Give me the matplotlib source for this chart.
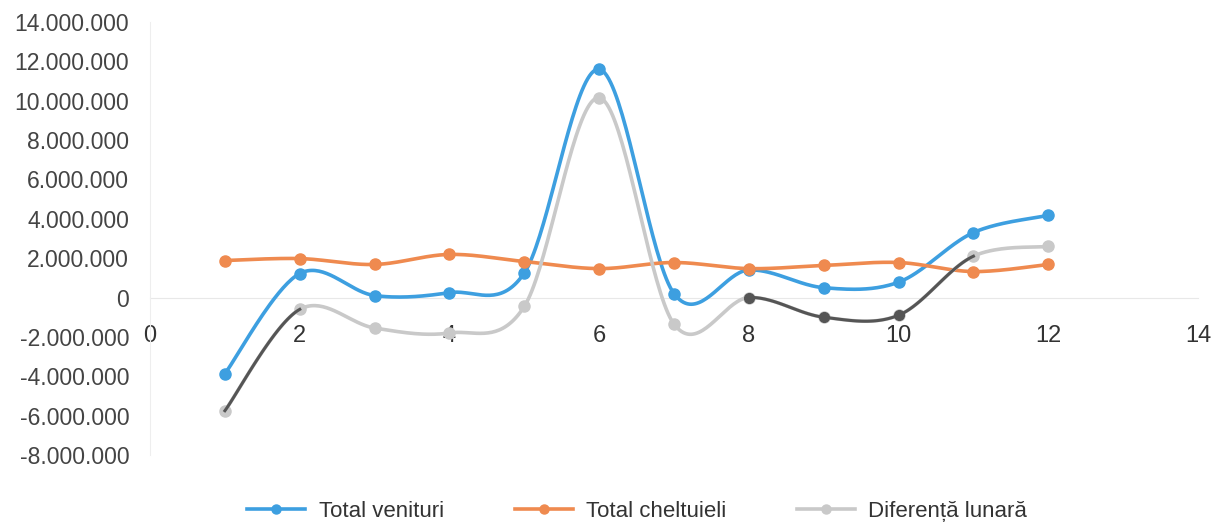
import matplotlib
matplotlib.use("Agg")
import matplotlib.pyplot as plt
import numpy as np
from matplotlib.ticker import FuncFormatter

plt.rcParams["font.family"] = ["Liberation Sans Narrow", "Liberation Sans", "DejaVu Sans"]

# luna (1..12) si valorile lunare, in lei
luni = [1, 2, 3, 4, 5, 6, 7, 8, 9, 10, 11, 12]
total_venituri = [-3870000, 1220000, 100000, 250000, 1250000, 11600000,
                  200000, 1400000, 500000, 780000, 3300000, 4170000]
total_cheltuieli = [1880000, 1980000, 1680000, 2190000, 1830000, 1470000,
                    1780000, 1470000, 1630000, 1780000, 1320000, 1680000]
diferenta_lunara = [-5750000, -600000, -1550000, -1800000, -450000, 10150000,
                    -1350000, 0, -1000000, -900000, 2100000, 2600000]

BLUE = "#3d9fe0"
ORANGE = "#ef8a4f"
GRAY = "#c9c9c9"
DARK = "#555555"


def smooth_segments(x, y, n=40):
    """Curba neteda ca in Excel: Bezier cubic cu puncte de control la 1/6."""
    p = np.column_stack([x, y]).astype(float)
    ext = np.vstack([p[0], p, p[-1]])
    parts = []
    t = np.linspace(0, 1, n)[:, None]
    for i in range(len(p) - 1):
        p0, p3 = ext[i + 1], ext[i + 2]
        c1 = p0 + (ext[i + 2] - ext[i]) / 6
        c2 = p3 - (ext[i + 3] - ext[i + 1]) / 6
        seg = ((1 - t) ** 3) * p0 + 3 * ((1 - t) ** 2) * t * c1 + 3 * (1 - t) * t ** 2 * c2 + t ** 3 * p3
        parts.append(seg)
    return parts


fig = plt.figure(figsize=(12.14, 5.26), dpi=100)
ax = fig.add_axes([0.1236, 0.135, 0.8632, 0.8232])

series = [
    ("Total venituri", total_venituri, BLUE),
    ("Total cheltuieli", total_cheltuieli, ORANGE),
    ("Diferență lunară", diferenta_lunara, GRAY),
]
for label, vals, color in series:
    segs = smooth_segments(luni, vals)
    curve = np.vstack(segs)
    ax.plot(curve[:, 0], curve[:, 1], color=color, lw=2.6, solid_capstyle="round", zorder=3)
    ax.plot(luni, vals, "o", color=color, ms=8, zorder=4)
    ax.plot([], [], "-o", color=color, lw=2.6, ms=6.5, label=label)

# portiunile inchise la culoare de pe linia diferentei (ca in imaginea scanata)
segs = smooth_segments(luni, diferenta_lunara)
for i in [0, 7, 8, 9]:
    ax.plot(segs[i][:, 0], segs[i][:, 1], color=DARK, lw=2.2, zorder=5)
ax.plot(luni[7:10], diferenta_lunara[7:10], "o", color=DARK, ms=7, zorder=6)

ax.set_xlim(0, 14)
ax.set_ylim(-8000000, 14000000)
ax.set_xticks(range(0, 15, 2))
ax.set_yticks(range(-8000000, 14000001, 2000000))
ax.yaxis.set_major_formatter(FuncFormatter(lambda v, _: f"{int(v):,}".replace(",", ".")))

for s in ["top", "right"]:
    ax.spines[s].set_visible(False)
ax.spines["bottom"].set_position(("data", 0))
ax.spines["bottom"].set_color("#e8e8e8")
ax.spines["left"].set_color("#eeeeee")
ax.spines["bottom"].set_zorder(1)

ax.tick_params(axis="x", length=0, pad=20, labelsize=17, colors="#333333")
ax.tick_params(axis="y", length=0, pad=15, labelsize=16.5, colors="#444444")

fig.legend(loc="lower center", bbox_to_anchor=(0.525, -0.03), ncol=3, frameon=False,
           fontsize=16, handlelength=2.6, handletextpad=0.6, columnspacing=3.2,
           labelcolor="#333333")

fig.savefig("out.png", dpi=100)
